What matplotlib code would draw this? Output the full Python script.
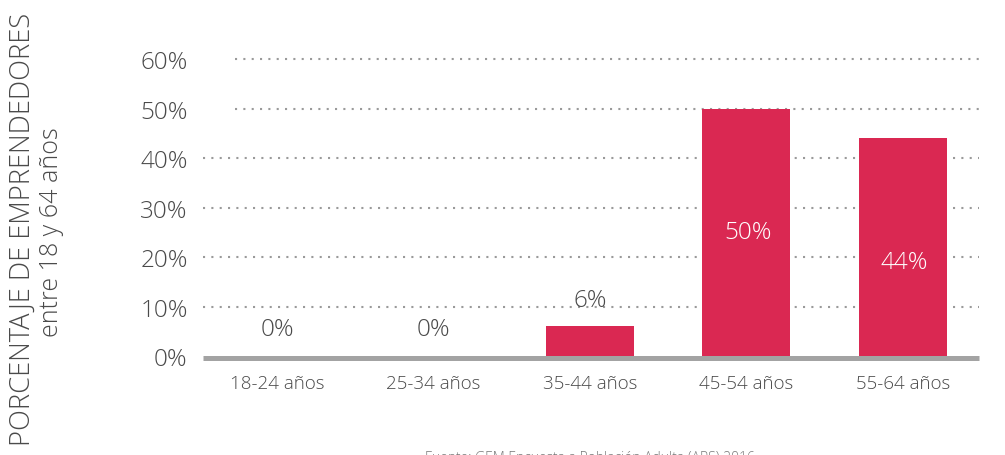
import matplotlib
matplotlib.use("Agg")
import matplotlib.pyplot as plt

# Data
categories = ["18-24 años", "25-34 años", "35-44 años", "45-54 años", "55-64 años"]
values = [0, 0, 6, 50, 44]
yticks = [0, 10, 20, 30, 40, 50, 60]
ytick_labels = ["0%", "10%", "20%", "30%", "40%", "50%", "60%"]

BAR = "#DA2852"
GRID = "#9a9a9a"
TEXT = "#4a4a4a"
FONT = "Open Sans"

plt.rcParams["font.family"] = [FONT, "DejaVu Sans"]
plt.rcParams["font.weight"] = 300

fig = plt.figure(figsize=(10.05, 4.56), dpi=100)
ax = fig.add_axes([0.202, 0.2171, 0.772, 0.6513])

x = list(range(len(categories)))
ax.set_xlim(-0.473, 4.486)
ax.set_ylim(0, 60)

# dotted gridlines behind the bars
for t in yticks[1:]:
    start = -0.27 if t >= 50 else -0.473
    ax.hlines(t, start, 4.486, colors=GRID, linestyles=(0, (1, 3)),
              linewidth=1.5, zorder=1, clip_on=False)

ax.bar(x, values, width=0.562, color=BAR, zorder=2)

# baseline
ax.hlines(-0.5, -0.473, 4.486, colors="#a3a3a3", linewidth=3.6, zorder=3,
          clip_on=False)

# value labels
for xi, v in zip(x, values):
    if v >= 20:
        ax.text(xi + 0.01, v - 25, f"{v}%", ha="center", va="center",
                color="white", fontsize=17.5, zorder=4)
    else:
        ax.text(xi, v + 5.4, f"{v}%", ha="center", va="center",
                color=TEXT, fontsize=17.5, zorder=4)

for s in ax.spines.values():
    s.set_visible(False)

ax.set_yticks(yticks)
ax.set_yticklabels(ytick_labels, fontsize=17.5, color=TEXT)
ax.set_xticks(x)
ax.set_xticklabels(categories, fontsize=13.5, color=TEXT)
ax.tick_params(axis="y", length=0, pad=11)
ax.tick_params(axis="x", length=0, pad=13)

# axis title (two lines)
fig.text(0.023, 0.9715, "PORCENTAJE DE EMPRENDEDORES", rotation=90,
         ha="center", va="top", fontsize=19.6, color=TEXT)
fig.text(0.051, 0.491, "entre 18 y 64 años", rotation=90,
         ha="center", va="center", fontsize=18, color=TEXT)

# source note
fig.text(0.587, 0.011, "Fuente: GEM Encuesta a Población Adulta (APS) 2016",
         ha="center", va="top", fontsize=10, color="#777777")

fig.savefig("out.png", dpi=100)
